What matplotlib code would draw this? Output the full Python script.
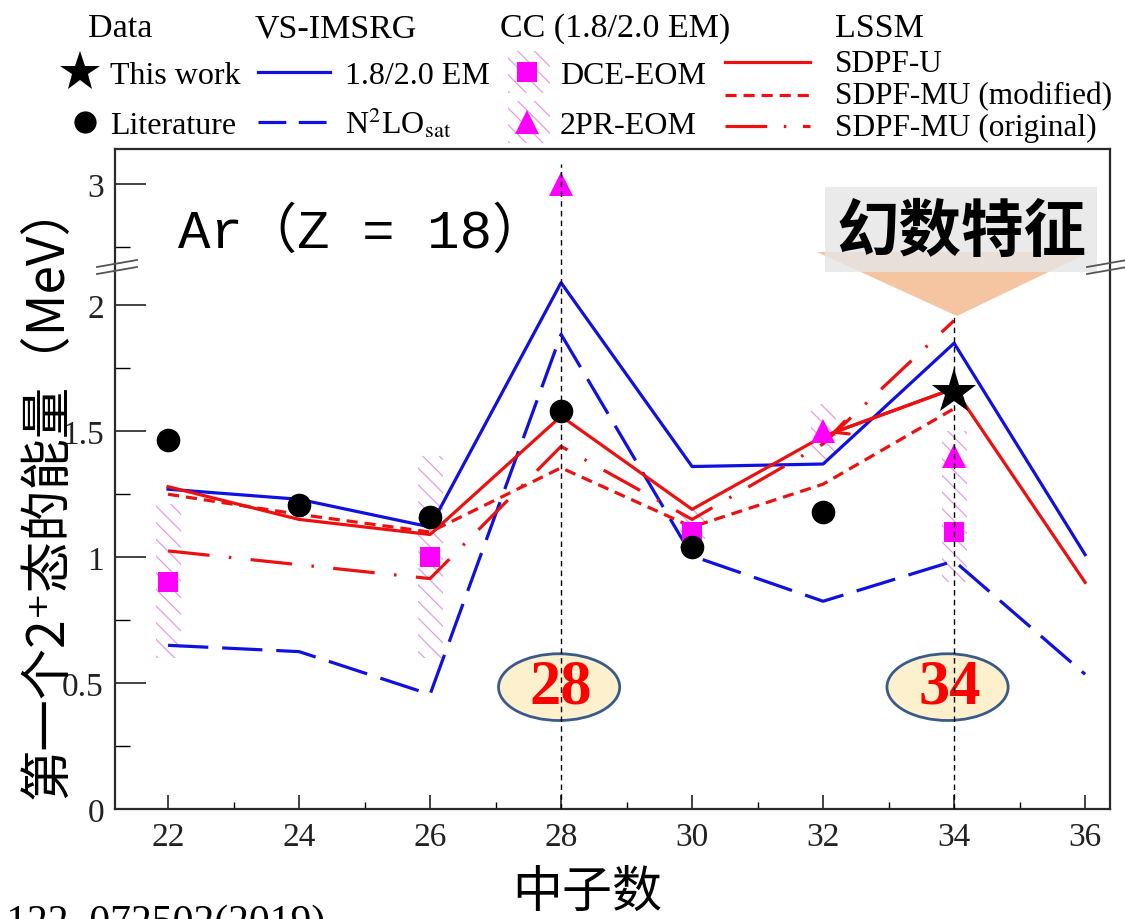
import numpy as np
import matplotlib
matplotlib.use("Agg")
import matplotlib.pyplot as plt
from matplotlib.lines import Line2D
from matplotlib.patches import Ellipse, Polygon, Rectangle
from matplotlib.transforms import Affine2D

plt.rcParams["font.family"] = ["Liberation Serif", "Noto Sans CJK SC", "DejaVu Sans"]
plt.rcParams["mathtext.fontset"] = "stix"
plt.rcParams["lines.scale_dashes"] = False
plt.rcParams["hatch.linewidth"] = 0.9

# ---------------- data: first 2+ excitation energies of Ar isotopes (MeV) ----------------
neutrons = [22, 24, 26, 28, 30, 32, 34, 36]
imsrg_em = [1.27, 1.23, 1.12, 2.09, 1.36, 1.37, 1.85, 1.01]
imsrg_n2lo = [0.65, 0.625, 0.455, 1.885, 1.005, 0.825, 0.985, 0.535]
sdpf_u = [1.28, 1.15, 1.09, 1.56, 1.19, 1.48, 1.67, 0.90]

mu_neutrons = [22, 24, 26, 28, 30, 32, 34]
sdpf_mu_mod = [1.25, 1.17, 1.10, 1.355, 1.12, 1.29, 1.59]
sdpf_mu_orig = [1.025, 0.97, 0.915, 1.44, 1.15, 1.45, 1.94]

lit_n = [22, 24, 26, 28, 30, 32]
lit_e = [1.464, 1.206, 1.159, 1.579, 1.040, 1.179]
this_n = [34]
this_e = [1.655]

dce_n = [22, 26, 30, 34]
dce_e = [0.90, 1.00, 1.10, 1.10]
dce_lo = [0.60, 0.60, 1.03, 0.90]
dce_hi = [1.21, 1.40, 1.20, 1.30]

pr_n = [28, 32, 34]
pr_e = [3.00, 1.50, 1.40]
pr_lo = [3.00, 1.39, 1.30]
pr_hi = [3.00, 1.61, 1.50]

magic_numbers = ["28", "34"]
magic_n = [28, 34]

xticks = [22, 24, 26, 28, 30, 32, 34, 36]
yticks = [0, 0.5, 1, 1.5, 2, 3]
yticklabels = ["0", "0.5", "1", "1.5", "2", "3"]

# ---------------- styles ----------------
BLUE = "#1010e0"
RED = "#ec1010"
MAG = "#ff00ff"
HATCH = "#e49ce6"
LW = 2.3
ls_n2lo = (0, (29, 10))
ls_mod = (0, (8, 5))
ls_orig = (0, (30, 14, 1.8, 14))

W, H = 1125, 920
fig = plt.figure(figsize=(W / 100, H / 100), dpi=100)
# pixel coordinates measured from the top-left corner of the canvas
PX = Affine2D().scale(1 / W, -1 / H).translate(0, 1) + fig.transFigure

ax = fig.add_axes([115 / W, (H - 810) / H, 995 / W, 660 / H])

# broken y axis: the interval (LO, HI) is squeezed out
LO, HI, G = 2.16, 2.68, 1e-3


def fwd(y):
    y = np.asarray(y, float)
    return np.where(y <= LO, y,
                    np.where(y >= HI, y - (HI - LO) + G, LO + (y - LO) * G / (HI - LO)))


def inv(t):
    t = np.asarray(t, float)
    return np.where(t <= LO, t,
                    np.where(t >= LO + G, t + (HI - LO) - G, LO + (t - LO) * (HI - LO) / G))


ax.set_yscale("function", functions=(fwd, inv))
ax.set_ylim(0, 3.14)
ax.set_xlim(21.19, 36.38)

# hatched uncertainty bands of the coupled-cluster results
ax.bar(dce_n, np.subtract(dce_hi, dce_lo), bottom=dce_lo, width=0.38, fill=False,
       hatch="\\\\", edgecolor=HATCH, linewidth=0, zorder=1)
ax.bar(pr_n, np.subtract(pr_hi, pr_lo), bottom=pr_lo, width=0.38, fill=False,
       hatch="\\\\", edgecolor=HATCH, linewidth=0, zorder=1)

# magic-number guide lines
ax.vlines(magic_n[0], 0, 3.08, colors="k", linestyles=(0, (4, 3)), lw=1.0, zorder=6)
ax.vlines(magic_n[1], 0, 1.956, colors="k", linestyles=(0, (4, 3)), lw=1.0, zorder=6)

# calculations
ax.plot(neutrons, imsrg_em, color=BLUE, lw=LW, zorder=2)
ax.plot(neutrons, imsrg_n2lo, color=BLUE, lw=LW, ls=ls_n2lo, zorder=2)
ax.plot(neutrons, sdpf_u, color=RED, lw=LW, zorder=2)
ax.plot(mu_neutrons, sdpf_mu_mod, color=RED, lw=LW, ls=ls_mod, zorder=2)
ax.plot(mu_neutrons, sdpf_mu_orig, color=RED, lw=LW, ls=ls_orig, zorder=2)
# arrowhead on the SDPF-U segment pointing from N=34 back towards N=32
x_tip = neutrons[5] + 0.12
y_tip = sdpf_u[5] + 0.06 * (sdpf_u[6] - sdpf_u[5])
ax.annotate("", xy=(x_tip, y_tip), xytext=(neutrons[6], sdpf_u[6]),
            arrowprops=dict(arrowstyle="->", color=RED, lw=LW, mutation_scale=24,
                            shrinkA=0, shrinkB=0), zorder=2)

ax.plot(dce_n, dce_e, ls="none", marker="s", ms=14, color=MAG, mew=0, zorder=3)
ax.plot(pr_n, pr_e, ls="none", marker="^", ms=17, color=MAG, mew=0, zorder=3)

# experiment
ax.plot(lit_n, lit_e, ls="none", marker="o", ms=17, color="k", mew=0, zorder=4)
ax.plot(this_n, this_e, ls="none", marker="*", ms=34, color="k", mew=0, zorder=5)

# magic-number badges
for n, lab in zip(magic_n, magic_numbers):
    cx = n - 0.1 if n == 34 else n - 0.03
    ax.add_patch(Ellipse((cx, 0.484), 1.85, 0.265, facecolor="#fdf0cd",
                         edgecolor="#3a5a8c", lw=2, zorder=5))
    ax.text(cx + 0.03, 0.484, lab, color="red", fontsize=45, fontweight="bold",
            ha="center", va="center", zorder=5.5)

# axes cosmetics
for s in ax.spines.values():
    s.set_color("#2a2a2a")
    s.set_linewidth(1.6)
ax.set_xticks(xticks)
ax.set_xticks([23, 25, 27, 29, 31, 33, 35], minor=True)
ax.set_yticks(yticks)
ax.set_yticklabels(yticklabels)
ax.set_yticks([0.25, 0.75, 1.25, 1.75, 2.75], minor=True)
ax.tick_params(axis="x", which="major", direction="in", length=10, width=1.2,
               labelsize=24, pad=9, colors="#222222", top=False)
ax.tick_params(axis="x", which="minor", direction="in", length=5, width=1.0, top=False)
ax.tick_params(axis="y", which="major", direction="in", length=22, width=1.2,
               labelsize=24, pad=8, colors="#222222", right=False)
ax.tick_params(axis="y", which="minor", direction="in", length=11, width=1.0, right=False)
for lab in ax.get_xticklabels() + ax.get_yticklabels():
    lab.set_color("#222222")

# axis-break marks
for x0 in (97, 1087):
    for dy in (0, 7):
        fig.add_artist(Line2D([x0, x0 + 40], [268 + dy, 261 + dy], transform=PX,
                              color="#555555", lw=1.3))

# labels
fig.text(48, 490, "第一个2⁺态的能量（MeV）", transform=PX, rotation=90, ha="center",
         va="center", fontsize=37, family=["Noto Sans CJK SC", "DejaVu Sans"])
fig.text(587, 893, "中子数", transform=PX, ha="center", va="center", fontsize=36,
         family=["Noto Sans CJK SC"])
fig.text(178, 248, "Ar（Z = 18）", transform=PX, ha="left", va="baseline", fontsize=39,
         family=["Liberation Mono", "Noto Sans CJK SC"])
fig.text(325, 934, "PRL 122, 072502(2019)", transform=PX, ha="right", va="baseline",
         fontsize=30)

# "magic-number signature" callout
ax.add_patch(Polygon([[817, 253], [1090, 253], [957, 317]], closed=True, transform=PX,
                     facecolor="#f5c4a0", edgecolor="none", zorder=6.5, clip_on=False))
ax.add_patch(Rectangle((825, 188), 272, 85, transform=PX, facecolor="#e6e6e6",
                       edgecolor="none", alpha=0.82, zorder=6.6, clip_on=False))
ax.text(961, 232, "幻数特征", transform=PX, ha="center", va="center", fontsize=45,
        fontweight="bold", family=["Noto Sans CJK SC"], zorder=6.7)

# ---------------- legend ----------------
HDR, ROW = 24.5, 23
fig.text(88, 37, "Data", transform=PX, fontsize=HDR, va="baseline")
fig.text(255, 37, "VS-IMSRG", transform=PX, fontsize=HDR, va="baseline")
fig.text(500, 37, "CC (1.8/2.0 EM)", transform=PX, fontsize=HDR, va="baseline")
fig.text(835, 37, "LSSM", transform=PX, fontsize=HDR, va="baseline")

fig.add_artist(Line2D([80], [73], transform=PX, marker="*", ms=30, color="k", mew=0, ls="none"))
fig.add_artist(Line2D([85], [123], transform=PX, marker="o", ms=16, color="k", mew=0, ls="none"))
fig.text(110, 84, "This work", transform=PX, fontsize=ROW, va="baseline")
fig.text(110, 134, "Literature", transform=PX, fontsize=ROW, va="baseline")

fig.add_artist(Line2D([258, 330], [73, 73], transform=PX, color=BLUE, lw=LW))
fig.add_artist(Line2D([258, 330], [123, 123], transform=PX, color=BLUE, lw=LW,
                      ls=(0, (20, 9))))
fig.text(345, 84, "1.8/2.0 EM", transform=PX, fontsize=ROW, va="baseline")
fig.text(345, 134, r"N$^2$LO$_{\mathrm{sat}}$", transform=PX, fontsize=ROW, va="baseline")

for yc, mk, ms in ((73, "s", 14), (123, "^", 17)):
    fig.add_artist(Rectangle((508, yc - 21), 42, 42, transform=PX, fill=False,
                             hatch="\\\\", edgecolor=HATCH, lw=0))
    fig.add_artist(Line2D([527], [yc], transform=PX, marker=mk, ms=ms, color=MAG, mew=0,
                          ls="none"))
fig.text(560, 84, "DCE-EOM", transform=PX, fontsize=ROW, va="baseline")
fig.text(560, 134, "2PR-EOM", transform=PX, fontsize=ROW, va="baseline")

for yc, ls in ((63, "-"), (96, ls_mod), (127, (0, (30, 12, 1.8, 12)))):
    fig.add_artist(Line2D([725, 810], [yc, yc], transform=PX, color=RED, lw=LW, ls=ls))
fig.text(835, 72, "SDPF-U", transform=PX, fontsize=22.5, va="baseline")
fig.text(835, 104, "SDPF-MU (modified)", transform=PX, fontsize=22.5, va="baseline")
fig.text(835, 136, "SDPF-MU (original)", transform=PX, fontsize=22.5, va="baseline")

fig.savefig("out.png", dpi=100, facecolor="white")
